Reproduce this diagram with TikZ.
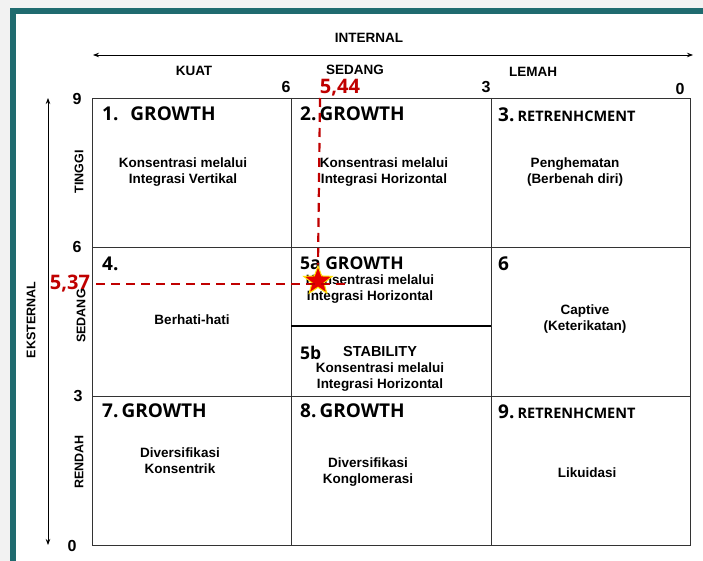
\documentclass[tikz,border=0pt]{standalone}
\usepackage{fontspec}
\setmainfont{Liberation Sans}
\newfontfamily\headfont{Open Sans}
\usepackage{xcolor}
\usepackage{tikz}
\usetikzlibrary{positioning,shapes,arrows.meta,calc}
\definecolor{teal}{HTML}{1F6B6F}
\definecolor{redval}{HTML}{C00000}
\tikzstyle{cell}=[draw=black!80, line width=0.9pt]
\tikzstyle{head}=[anchor=west, font=\headfont\bfseries\fontsize{19}{21}\selectfont, inner sep=0pt]
\tikzstyle{body}=[align=center, font=\bfseries\fontsize{13.5}{16}\selectfont, inner sep=0pt]
\tikzstyle{axis}=[font=\bfseries\fontsize{13.5}{15}\selectfont, inner sep=0pt]
\tikzstyle{side}=[rotate=90, font=\bfseries\fontsize{12.5}{14}\selectfont, inner sep=0pt]
\tikzstyle{tick}=[font=\bfseries\fontsize{16}{18}\selectfont, inner sep=0pt]
\tikzstyle{val}=[text=redval, font=\headfont\bfseries\fontsize{20}{22}\selectfont, inner sep=0pt]
\tikzstyle{guide}=[draw=redval, line width=2.2pt, dash pattern=on 9pt off 6pt]
\tikzstyle{every node}=[text=black]
\newcommand{\retr}[1]{#1\,{\fontsize{14.5}{16}\selectfont RETRENHCMENT}}

\begin{document}
\begin{tikzpicture}[x=1pt, y=-1pt]
    \useasboundingbox (0,0) rectangle (703,561);
    \fill[black!5] (0,0) rectangle (703,561);
    \fill[white] (13,11) rectangle (720,580);
    \draw[teal, line width=6pt] (13,11) rectangle (720,580);
    % axes
    \node (internal) [axis] at (369,38) {INTERNAL};
    \coordinate (xl) at (93,55);
    \coordinate (xr) at (693,55);
    \draw[{Stealth[length=6pt]}-{Stealth[length=6pt]}, line width=0.8pt] (xl) -- (xr);
    \node (kuat) [axis] at (194,71) {KUAT};
    \node (sedangx) [axis] at (355,70) {SEDANG};
    \node (lemah) [axis] at (533,72) {LEMAH};
    \coordinate (yt) at (48,98);
    \coordinate (yb) at (48,545);
    \draw[{Stealth[length=6pt]}-{Stealth[length=6pt]}, line width=0.8pt] (yt) -- (yb);
    \node (eksternal) [side] at (31,320) {EKSTERNAL};
    \node (tinggi) [side] at (79,172) {TINGGI};
    \node (sedangy) [side] at (81,316) {SEDANG};
    \node (rendah) [side] at (79,462) {RENDAH};
    % ticks
    \node (tx6) [tick] at (286,87) {6};
    \node (tx3) [tick] at (486,87) {3};
    \node (tx0) [tick] at (680,89) {0};
    \node (ty9) [tick] at (77,99) {9};
    \node (ty6) [tick] at (77,247) {6};
    \node (ty3) [tick] at (78,396) {3};
    \node (ty0) [tick] at (72,546) {0};
    % grid
    \draw[cell] (92,98) rectangle (690,545);
    \draw[cell] (291,98) -- (291,545);
    \draw[cell] (491,98) -- (491,545);
    \draw[cell] (92,247) -- (690,247);
    \draw[cell] (92,396) -- (690,396);
    \draw[line width=1.6pt] (291,326) -- (491,326);
    % cells
    \node (h1) [head] at (102,114) {1.\hspace{12pt}GROWTH};
    \node (b1) [body] at (183,172) {Konsentrasi melalui\\Integrasi Vertikal};
    \node (h2) [head] at (300,114) {2.\,GROWTH};
    \node (b2) [body] at (384,172) {Konsentrasi melalui\\Integrasi Horizontal};
    \node (h3) [head] at (498,115) {\retr{3.}};
    \node (b3) [body] at (575,172) {Penghematan\\(Berbenah diri)};
    \node (h4) [head] at (102,264) {4.};
    \node (b4) [body] at (192,320) {Berhati-hati};
    \node (h5a) [head, font=\headfont\fontsize{17.5}{19}\selectfont\bfseries] at (300,263) {5a GROWTH};
    \node (b5a) [body] at (370,289) {Konsentrasi melalui\\Integrasi Horizontal};
    \node (h5b) [head, font=\headfont\fontsize{17.5}{19}\selectfont\bfseries] at (300,353) {5b};
    \node (s5b) [axis, font=\bfseries\fontsize{14.5}{16}\selectfont] at (380,352) {STABILITY};
    \node (b5b) [body] at (380,377) {Konsentrasi melalui\\Integrasi Horizontal};
    \node (h6) [head] at (498,264) {6};
    \node (b6) [body] at (585,319) {Captive\\(Keterikatan)};
    \node (h7) [head] at (102,411) {7.\,GROWTH};
    \node (b7) [body] at (180,461) {Diversifikasi\\Konsentrik};
    \node (h8) [head] at (300,411) {8.\,GROWTH};
    \node (b8) [body] at (368,472) {Diversifikasi\\Konglomerasi};
    \node (h9) [head] at (498,412) {\retr{9.}};
    \node (b9) [body] at (587,473) {Likuidasi};
    % position
    \node (v544) [val] at (340,88) {5,44};
    \node (v537) [val] at (70,284) {5,37};
    \node (pos) [star, star points=5, star point ratio=2.4, fill=red!90!black,
          draw=yellow!85!orange, line width=1pt, minimum size=30pt, inner sep=0pt] at (318,281) {};
    \coordinate (gx) at (346,284);
    \coordinate (gy) at (320,98);
    \draw[guide] (v537.east) ++(6,0) -- (gx);
    \draw[guide] (gy) -- (pos.north);
\end{tikzpicture}
\end{document}
